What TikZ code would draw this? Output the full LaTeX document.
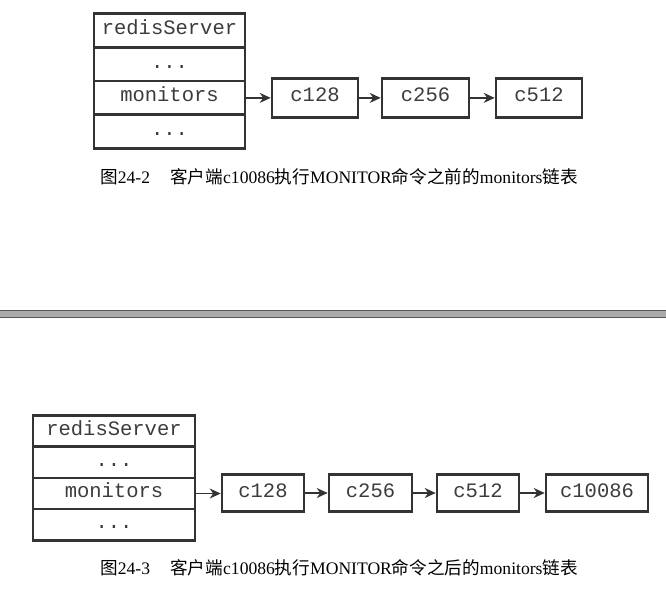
\documentclass[tikz,border=0pt]{standalone}
\usepackage{fontspec}
\setmainfont{Liberation Serif}
\newfontfamily\cjk{Noto Sans CJK SC}
\newfontfamily\monofont{Liberation Mono}
\usetikzlibrary{arrows.meta}
\definecolor{boxc}{HTML}{333333}
\definecolor{txtc}{HTML}{3C3C3C}
\definecolor{barc}{HTML}{AAAAAA}
\definecolor{barl}{HTML}{555555}
\tikzset{
  cellbase/.style={draw=boxc, line width=2.6pt, inner sep=0pt,
    font=\monofont\fontsize{20.5}{20.5}\selectfont, text=txtc,
    text height=12pt, text depth=4pt},
  topcell/.style={cellbase, minimum width=151pt, minimum height=33.75pt},
  botcell/.style={cellbase, minimum width=162pt, minimum height=31.25pt},
  topclient/.style={cellbase, minimum width=86pt, minimum height=39pt},
  botclient/.style={cellbase, minimum height=37pt},
  link/.style={draw=boxc, line width=1.2pt, -{Stealth[length=11pt,width=10pt,inset=3.5pt]}},
  caption/.style={font=\fontsize{17.6}{17.6}\selectfont, text=black, inner sep=0pt}
}
\begin{document}
\begin{tikzpicture}[x=1pt,y=-1pt]
\useasboundingbox (0,0) rectangle (666,594);
% ---------- top figure ----------
\node[topcell] (t0) at (169.5,30.4) {redisServer};
\node[topcell] (t1) at (169.5,64.1) {...};
\node[topcell] (t2) at (169.5,97.9) {monitors};
\node[topcell] (t3) at (169.5,131.6) {...};
\node[topclient] (ta) at (315,97.9) {c128};
\node[topclient, minimum width=87pt] (tb) at (425.5,97.9) {c256};
\node[topclient] (tc) at (539,97.9) {c512};
\draw[link] (t2.east) -- (ta.west);
\draw[link] (ta.east) -- (tb.west);
\draw[link] (tb.east) -- (tc.west);
\node[caption] (cap1) at (339,177) {{\cjk 图}24-2\hspace{1.15em}{\cjk 客户端}c10086{\cjk 执行}MONITOR{\cjk 命令之前的}monitors{\cjk 链表}};
% ---------- divider ----------
\draw[draw=barl, fill=barc, line width=1pt] (-2,310.5) rectangle (668,317.5);
% ---------- bottom figure ----------
\node[botcell] (b0) at (114,431) {redisServer};
\node[botcell] (b1) at (114,462.25) {...};
\node[botcell] (b2) at (114,493.5) {monitors};
\node[botcell] (b3) at (114,524.75) {...};
\node[botclient, minimum width=82pt] (ba) at (263,493) {c128};
\node[botclient, minimum width=83pt] (bb) at (370.5,493) {c256};
\node[botclient, minimum width=82pt] (bc) at (478,493) {c512};
\node[botclient, minimum width=102pt] (bd) at (597,493) {c10086};
\draw[link] (b2.east) -- (b2.east -| ba.west);
\draw[link] (ba.east) -- (bb.west);
\draw[link] (bb.east) -- (bc.west);
\draw[link] (bc.east) -- (bd.west);
\node[caption] (cap2) at (339,568) {{\cjk 图}24-3\hspace{1.15em}{\cjk 客户端}c10086{\cjk 执行}MONITOR{\cjk 命令之后的}monitors{\cjk 链表}};
\end{tikzpicture}
\end{document}
